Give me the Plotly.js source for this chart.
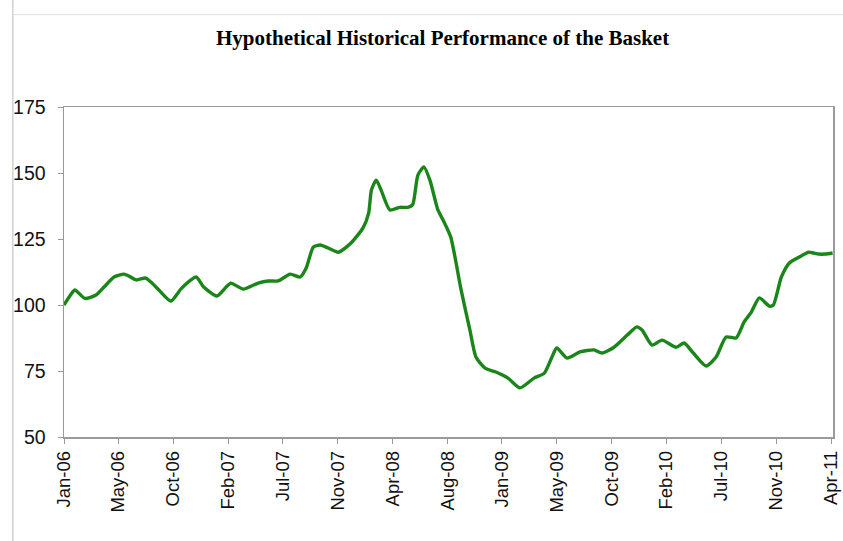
<!DOCTYPE html>
<html>
<head>
<meta charset="utf-8">
<script src="https://cdn.plot.ly/plotly-3.0.1.min.js"></script>
<style>html,body{margin:0;padding:0;background:#fff;}#chart{width:843px;height:541px;}</style>
</head>
<body>
<div id="chart"></div>
<script>
const dates = [
 '2006-01-01','2006-01-16','2006-01-28','2006-02-22','2006-03-22','2006-04-11','2006-05-06','2006-05-31',
 '2006-06-12','2006-06-30','2006-07-24','2006-08-06','2006-08-26','2006-09-25','2006-10-22','2006-11-27',
 '2006-12-16','2007-01-18','2007-02-10','2007-02-22','2007-03-25','2007-05-01','2007-05-26','2007-06-20',
 '2007-07-20','2007-08-14','2007-08-29','2007-09-16','2007-10-03','2007-10-23','2007-11-17','2007-12-19',
 '2008-01-18','2008-02-01','2008-02-08','2008-02-20','2008-03-03','2008-03-25','2008-04-19','2008-05-09',
 '2008-05-21','2008-06-03','2008-06-18','2008-07-03','2008-07-23','2008-08-05','2008-08-24','2008-09-19',
 '2008-10-11','2008-10-26','2008-11-18','2008-12-15','2009-01-14','2009-02-13','2009-03-20','2009-04-15',
 '2009-05-04','2009-05-16','2009-06-11','2009-07-13','2009-08-17','2009-09-06','2009-10-06','2009-11-08',
 '2009-12-02','2009-12-15','2010-01-09','2010-02-03','2010-03-10','2010-03-30','2010-04-22','2010-05-24',
 '2010-06-18','2010-07-13','2010-08-07','2010-08-27','2010-09-14','2010-10-04','2010-10-29','2010-11-08',
 '2010-11-28','2010-12-18','2011-01-12','2011-02-04','2011-02-16','2011-03-01','2011-03-18','2011-04-05'
];
const values = [
 100,103.5,105.7,102.5,103.8,106.8,110.6,111.7,
 111,109.5,110.2,108.7,105.7,101.5,106.4,110.6,
 106.8,103.4,106.8,108.3,106,108.3,109.1,109.1,
 111.7,110.6,114,122,122.7,121.6,120,123.5,
 129.2,134.8,143.6,147.3,143.6,136,137,137,
 138,149.2,152.3,147.3,136,132.2,125.8,105.7,
 90.5,80.3,76.1,74.6,72.3,68.6,72.3,74.2,
 80.3,83.7,79.9,82.2,83,81.8,84,88.6,
 91.7,90.5,84.8,86.7,84,85.6,81.8,76.9,
 80.3,87.9,87.5,93.6,97.3,102.7,99.6,100,
 110.6,115.9,118.2,120,119.7,119.3,119.3,119.7
];
const tickLabels = ['Jan-06','May-06','Oct-06','Feb-07','Jul-07','Nov-07','Apr-08','Aug-08',
 'Jan-09','May-09','Oct-09','Feb-10','Jul-10','Nov-10','Apr-11'];
const yTicks = [50,75,100,125,150,175];

const t0 = Date.UTC(2006,0,1), t1 = Date.UTC(2011,3,1);
const step = (t1 - t0) / (tickLabels.length - 1);
const tickVals = tickLabels.map((_, k) => new Date(t0 + k * step).toISOString().slice(0,10));

const trace = {
  x: dates, y: values, type: 'scatter', mode: 'lines',
  line: {color: '#1a861a', width: 3.4, shape: 'spline', smoothing: 0.6},
  hoverinfo: 'x+y'
};
const yFont = {family: 'Liberation Sans, Arial, sans-serif', size: 19.5, color: '#111'};
const xFont = {family: 'Liberation Sans, Arial, sans-serif', size: 18.5, color: '#111'};
const layout = {
  width: 843, height: 541,
  margin: {l: 64, r: 10, t: 107, b: 104, pad: 0},
  paper_bgcolor: '#fff', plot_bgcolor: '#fff',
  showlegend: false,
  title: {text: '<b>Hypothetical Historical Performance of the Basket</b>',
    font: {family: 'Liberation Serif, Times New Roman, serif', size: 21, color: '#000'},
    x: 0.525, xanchor: 'center', y: 0.93, yanchor: 'middle'},
  xaxis: {
    type: 'date', range: ['2006-01-01', '2011-04-06'],
    tickmode: 'array', tickvals: tickVals, ticktext: tickLabels, tickangle: -90,
    ticks: 'outside', ticklen: 5, tickcolor: '#999', tickwidth: 1,
    ticklabeloverflow: 'allow',
    showgrid: false, zeroline: false,
    showline: true, linecolor: '#9a9a9a', linewidth: 1.5, mirror: true,
    tickfont: xFont
  },
  yaxis: {
    range: [50, 175], tickmode: 'array', tickvals: yTicks, ticktext: yTicks.map(String),
    ticks: 'outside', ticklen: 5, tickcolor: '#999', tickwidth: 1,
    ticklabelstandoff: 8,
    showgrid: false, zeroline: false,
    showline: true, linecolor: '#9a9a9a', linewidth: 1.5, mirror: true,
    tickfont: yFont
  },
  shapes: [
    {type: 'line', xref: 'paper', yref: 'paper', x0: -0.0665, x1: -0.0665, y0: -0.36, y1: 2.5,
     line: {color: '#bbb', width: 1}},
    {type: 'line', xref: 'paper', yref: 'paper', x0: -0.0665, x1: 1.2, y0: 1.28, y1: 1.28,
     line: {color: '#e0e0e0', width: 1}}
  ]
};
Plotly.newPlot('chart', [trace], layout, {displayModeBar: false, staticPlot: true});
</script>
</body>
</html>
